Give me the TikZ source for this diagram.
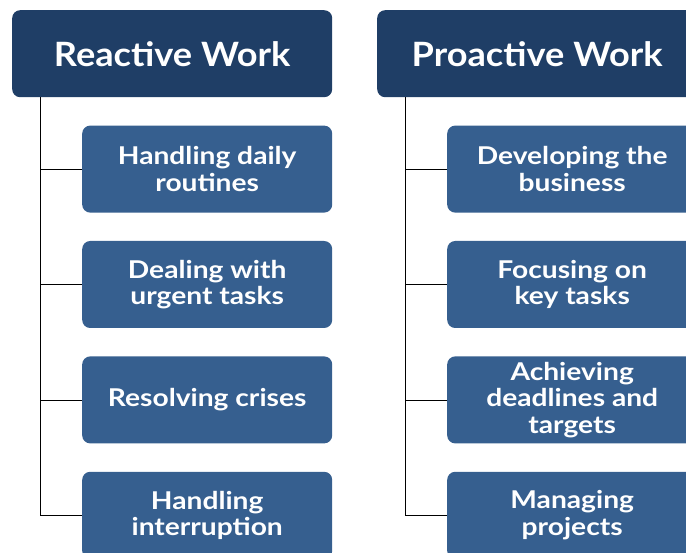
\documentclass[tikz,border=0pt]{standalone}
\usepackage{fontspec}
\setmainfont{Lato}
\newfontfamily\headfont[FakeStretch=1.08]{Lato}
\newfontfamily\itemfont[FakeStretch=1.15]{Lato}
\usetikzlibrary{positioning}
\definecolor{headblue}{RGB}{31,62,102}
\definecolor{itemblue}{RGB}{54,95,143}
\begin{document}
\begin{tikzpicture}[>=stealth,scale=1]
                  \tikzset{
                      headbox/.style={fill=headblue,rounded corners=8pt,minimum width=320pt,minimum height=87pt,inner sep=0pt,
                              text=white,font=\headfont\fontsize{33.5}{36}\selectfont\bfseries},
                      itembox/.style={fill=itemblue,rounded corners=8pt,minimum width=250pt,minimum height=87pt,inner sep=0pt,
                              text=white,align=center,font=\itemfont\fontsize{24.5}{26.5}\selectfont\bfseries},
                      branch/.style={draw=black,thin}
                  }
                  \useasboundingbox (0,0) rectangle (686pt,-553pt);
                  \clip (0,0) rectangle (686pt,-553pt);
                  % headers
                  \node[headbox,anchor=north west] (reactive) at (12pt,-10pt) {Reactive Work};
                  \node[headbox,anchor=north west] (proactive) at (377pt,-10pt) {Proactive Work};
                  % reactive items
                  \node[itembox,below left=28pt and 0pt of reactive.south east] (r1) {Handling daily\\routines};
                  \node[itembox,below=28pt of r1] (r2) {Dealing with\\urgent tasks};
                  \node[itembox,below=28pt of r2] (r3) {Resolving crises};
                  \node[itembox,below=28pt of r3] (r4) {Handling\\interruption};
                  % proactive items
                  \node[itembox,below left=28pt and 0pt of proactive.south east] (p1) {Developing the\\business};
                  \node[itembox,below=28pt of p1] (p2) {Focusing on\\key tasks};
                  \node[itembox,below=28pt of p2] (p3) {Achieving\\deadlines and\\targets};
                  \node[itembox,below=28pt of p3] (p4) {Managing\\projects};
                  \coordinate (rtop) at ([xshift=28pt]reactive.south west);
                  \coordinate (ptop) at ([xshift=28pt]proactive.south west);
                  \foreach \i in {1,...,4}{
                      \draw[branch](rtop)|-(r\i.west);
                      \draw[branch](ptop)|-(p\i.west);
                  }
              \end{tikzpicture}
\end{document}
